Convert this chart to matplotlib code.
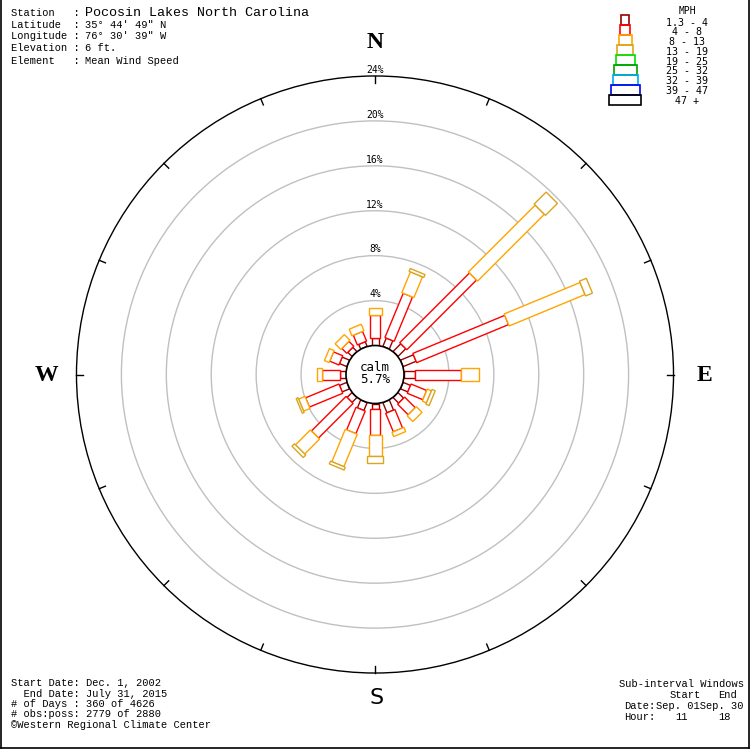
import numpy as np
import matplotlib.pyplot as plt
from matplotlib.patches import Polygon, Circle, Rectangle
from matplotlib.lines import Line2D

# wind rose data: percent of observations per direction and speed class
directions = ['N', 'NNE', 'NE', 'ENE', 'E', 'ESE', 'SE', 'SSE',
              'S', 'SSW', 'SW', 'WSW', 'W', 'WNW', 'NW', 'NNW']
bearings = [0, 22.5, 45, 67.5, 90, 112.5, 135, 157.5,
            180, 202.5, 225, 247.5, 270, 292.5, 315, 337.5]

speed_classes = ['1.3 - 4', '4 - 8', '8 - 13', '13 - 19', '19 - 25',
                 '25 - 32', '32 - 39', '39 - 47', '47 +']
class_colors = ['#990000', '#ff0000', '#ffa500', '#daa520', '#00e000',
                '#00a000', '#00aaee', '#0000ee', '#000000']

pct_1_4 = [0.71, 0.80, 0.98, 1.25, 0.98, 0.71, 0.71, 0.98,
           0.53, 0.76, 0.62, 0.71, 0.53, 0.71, 0.53, 0.45]
pct_4_8 = [2.00, 4.27, 8.78, 8.86, 4.07, 1.51, 1.34, 1.78,
           2.27, 2.18, 4.36, 3.21, 1.60, 0.89, 0.62, 0.94]
pct_8_13 = [0.67, 2.00, 8.41, 7.31, 1.66, 0.40, 0.71, 0.40,
            1.87, 3.12, 1.87, 0.62, 0.45, 0.45, 0.71, 0.63]
pct_13_19 = [0.0, 0.27, 1.51, 0.66, 0.0, 0.31, 0.0, 0.0,
             0.67, 0.27, 0.31, 0.18, 0.0, 0.0, 0.0, 0.0]
calm_pct = 5.7

ring_pcts = [4, 8, 12, 16, 20, 24]

header_keys = ['Station', 'Latitude', 'Longitude', 'Elevation', 'Element']
header_vals = ['Pocosin Lakes North Carolina', '35° 44\' 49" N',
               '76° 30\' 39" W', '6 ft.', 'Mean Wind Speed']
footer_lines = ['Start Date: Dec. 1, 2002', '  End Date: July 31, 2015',
                '# of Days : 360 of 4626', '# obs:poss: 2779 of 2880']

# geometry (pixels of a 750x750 picture)
W = 750
PX = 11.23          # pixels per percent
CX, CY = 375, 374.5
calm_r = 29 / PX    # calm circle radius in percent units
box_px = [7, 10, 13, 16, 19, 23, 25, 29, 32]
mono = 'Liberation Mono'

fig = plt.figure(figsize=(7.5, 7.5), dpi=100)
ax = fig.add_axes([0, 0, 1, 1])
ax.set_xlim(-CX / PX, (W - CX) / PX)
ax.set_ylim(-(W - CY) / PX, CY / PX)
ax.axis('off')


def rad(p):
    return calm_r + p


# grid rings
for p in ring_pcts[:-1]:
    ax.add_patch(Circle((0, 0), rad(p), fill=False, ec='#c0c0c0', lw=1, zorder=1))
ax.add_patch(Circle((0, 0), rad(24), fill=False, ec='black', lw=1, zorder=1))
for b in bearings:
    t = np.deg2rad(b)
    r1, r2 = rad(24) - 0.6, rad(24)
    ax.plot([r1 * np.sin(t), r2 * np.sin(t)], [r1 * np.cos(t), r2 * np.cos(t)],
            color='black', lw=1, zorder=1)
for p in ring_pcts:
    ax.text(0, rad(p) + 0.55, '%d%%' % p, ha='center', va='center',
            fontsize=7, family='DejaVu Sans Mono', zorder=5)

# bars
classes = [pct_1_4, pct_4_8, pct_8_13, pct_13_19]
for i, b in enumerate(bearings):
    t = np.deg2rad(b)
    u = np.array([np.sin(t), np.cos(t)])
    v = np.array([np.cos(t), -np.sin(t)])
    start = 0.0
    for k, vals in enumerate(classes):
        val = vals[i]
        if val <= 0:
            continue
        hw = box_px[k] / PX / 2
        r0, r1 = rad(start), rad(start + val)
        pts = [u * r0 + v * hw, u * r1 + v * hw, u * r1 - v * hw, u * r0 - v * hw]
        ax.add_patch(Polygon(pts, closed=True, fc='white', ec=class_colors[k],
                             lw=1, zorder=3 + k * 0.01))
        start += val

ax.add_patch(Circle((0, 0), calm_r, fc='white', ec='black', lw=1.2, zorder=4))
ax.text(0, 0.65, 'calm', ha='center', va='center', fontsize=9,
        family='DejaVu Sans Mono', zorder=5)
ax.text(0, -0.45, '%.1f%%' % calm_pct, ha='center', va='center', fontsize=9,
        family='DejaVu Sans Mono', zorder=5)


# compass letters
def fx(x):
    return x / W


def fy(y):
    return 1 - y / W


fig.text(fx(375), fy(42), 'N', ha='center', va='center', fontsize=17,
         family='Liberation Serif', weight='bold')
fig.text(fx(46), fy(375.5), 'W', ha='center', va='center', fontsize=17,
         family='Liberation Serif', weight='bold')
fig.text(fx(704), fy(375.5), 'E', ha='center', va='center', fontsize=17,
         family='Liberation Serif', weight='bold')
fig.text(fx(377), fy(698), 'S', ha='center', va='center', fontsize=16,
         family='DejaVu Sans')

# header block
ys = [13, 24.5, 36, 48, 60.5]
for k, (key, val) in enumerate(zip(header_keys, header_vals)):
    fig.text(fx(11), fy(ys[k]), key.ljust(10) + ':', ha='left', va='center',
             fontsize=7.5, family=mono)
    fig.text(fx(85), fy(ys[k]), val, ha='left', va='center',
             fontsize=9.6 if k == 0 else 7.5, family=mono)

# legend
fig.text(fx(687), fy(11), 'MPH', ha='center', va='center', fontsize=7,
         family='DejaVu Sans Mono')
for k, lab in enumerate(speed_classes):
    w = box_px[k] + (1 if k == 0 else 0)
    y_top = 15 + 10 * k
    fig.patches.append(Rectangle((fx(625 - w / 2), fy(y_top + 10)), w / W, 10 / W,
                                 transform=fig.transFigure, fill=False,
                                 ec=class_colors[k], lw=1.2))
    fig.text(fx(687), fy(22.5 + 9.8 * k), lab, ha='center', va='center',
             fontsize=7.2, family='DejaVu Sans Mono')

# footer
for k, line in enumerate(footer_lines):
    fig.text(fx(11), fy(683.5 + 10.3 * k), line, ha='left', va='center',
             fontsize=7.5, family=mono)
fig.text(fx(11), fy(725), '\u00a9Western Regional Climate Center', ha='left',
         va='center', fontsize=7.5, family=mono)

fig.text(fx(619), fy(684), 'Sub-interval Windows', ha='left', va='center',
         fontsize=7.5, family=mono)
fig.text(fx(670), fy(695), 'Start', ha='left', va='center', fontsize=7.5, family=mono)
fig.text(fx(718), fy(695), 'End', ha='left', va='center', fontsize=7.5, family=mono)
fig.text(fx(624), fy(706), 'Date:', ha='left', va='center', fontsize=7.5, family=mono)
fig.text(fx(656), fy(706), 'Sep. 01Sep. 30', ha='left', va='center', fontsize=7.5, family=mono)
fig.text(fx(624), fy(717), 'Hour:', ha='left', va='center', fontsize=7.5, family=mono)
fig.text(fx(675), fy(717), '11', ha='left', va='center', fontsize=7.5, family=mono)
fig.text(fx(718), fy(717), '18', ha='left', va='center', fontsize=7.5, family=mono)

# picture border
for xs, ys_ in [([0.5, 0.5], [0, 747.5]), ([0.5, 748.5], [747.5, 747.5]),
                ([748.5, 748.5], [0, 747.5])]:
    fig.add_artist(Line2D([fx(x) for x in xs], [fy(y) for y in ys_],
                          color='black', lw=1.2, transform=fig.transFigure))
fig.patches.append(Rectangle((fx(749.2), 0), 1, 1, transform=fig.transFigure,
                             fc='white', ec='none'))

fig.savefig('out.png', dpi=100, facecolor='white')
